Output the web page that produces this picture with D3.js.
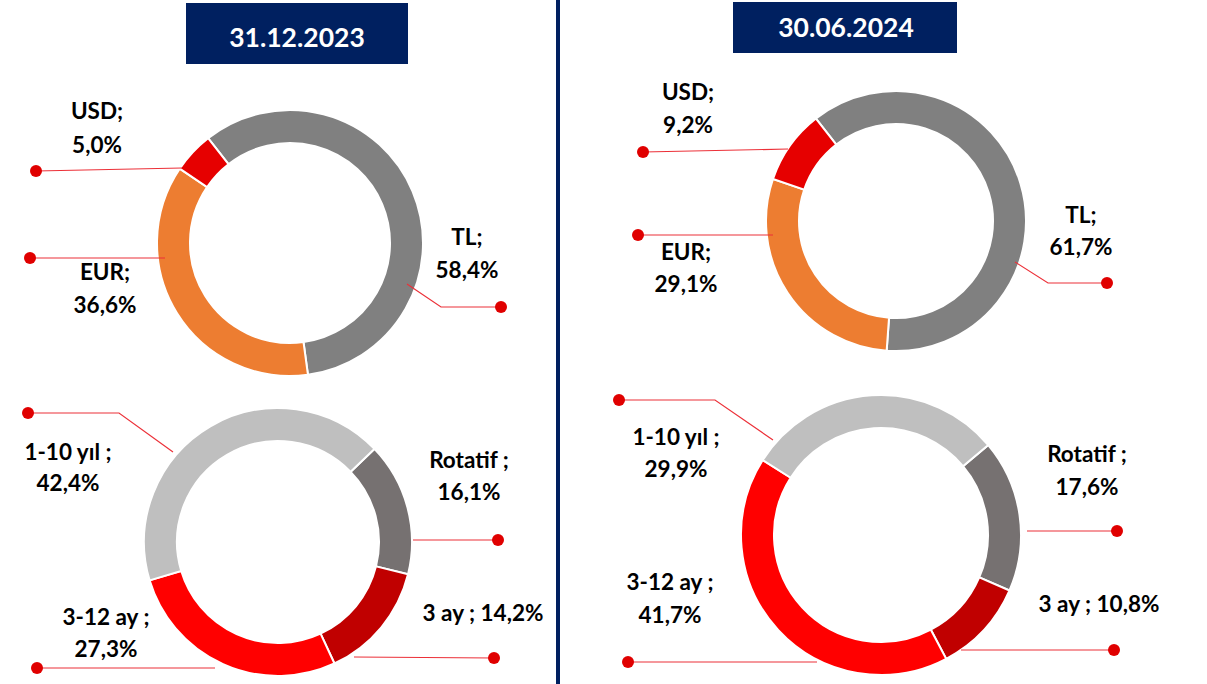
<!DOCTYPE html>
<html>
<head>
<meta charset="utf-8">
<script src="https://cdn.jsdelivr.net/npm/d3@7"></script>
<style>
  html, body { margin: 0; padding: 0; background: #fff; }
  svg { display: block; }
  text { font-family: Lato, "Open Sans", sans-serif; font-weight: bold; }
</style>
</head>
<body>
<div id="chart"></div>
<script>
// Data
const dateLabels = ["31.12.2023", "30.06.2024"];

const currencyCats = ["TL", "EUR", "USD"];
const currency2023 = [58.4, 36.6, 5.0];
const currency2024 = [61.7, 29.1, 9.2];

const maturityCats = ["Rotatif", "3 ay", "3-12 ay", "1-10 yıl"];
const maturity2023 = [16.1, 14.2, 27.3, 42.4];
const maturity2024 = [17.6, 10.8, 41.7, 29.9];

const currencyColors = ["#808080", "#ED7D31", "#E60000"];
const maturityColors = ["#767171", "#C00000", "#FF0000", "#BFBFBF"];

const width = 1207, height = 684;
const navy = "#002060";

// layout: one entry per donut (labels follow the category order)
const charts = [
  {
    cats: currencyCats, values: currency2023, colors: currencyColors, sep: ";",
    cx: 290, cy: 243, outer: 133, inner: 100, start: -38,
    labels: [
      { x: 467, y: [245, 278], leader: [[407, 284], [441, 307], [501, 307]] },
      { x: 105, y: [280, 313], leader: [[165, 258], [30, 258]] },
      { x: 97, y: [119, 153], leader: [[182, 168], [36, 171]] }
    ]
  },
  {
    cats: currencyCats, values: currency2024, colors: currencyColors, sep: ";",
    cx: 896, cy: 221, outer: 130, inner: 97, start: -38,
    labels: [
      { x: 1081, y: [223, 255], leader: [[1015, 262], [1048, 283], [1107, 283]] },
      { x: 686, y: [260, 292], leader: [[773, 235], [638, 235]] },
      { x: 688, y: [100, 133], leader: [[788, 149], [643, 152]] }
    ]
  },
  {
    cats: maturityCats, values: maturity2023, colors: maturityColors, sep: " ;",
    cx: 278, cy: 542, outer: 134, inner: 101, start: 46,
    labels: [
      { x: 469, y: [468, 500], leader: [[413, 540], [498, 540]] },
      { x: 483, y: [621], leader: [[354, 657], [494, 658]] },
      { x: 106, y: [625, 657], leader: [[215, 668], [37, 668]] },
      { x: 68, y: [460, 491], leader: [[173, 452], [119, 413], [28, 413]] }
    ]
  },
  {
    cats: maturityCats, values: maturity2024, colors: maturityColors, sep: " ;",
    cx: 881, cy: 535, outer: 140, inner: 107, start: 50,
    labels: [
      { x: 1087, y: [462, 495], leader: [[1027, 531], [1117, 531]] },
      { x: 1099, y: [612], leader: [[961, 650], [1114, 650]] },
      { x: 670, y: [590, 623], leader: [[817, 662], [628, 662]] },
      { x: 676, y: [445, 477], leader: [[773, 440], [715, 400], [619, 400]] }
    ]
  }
];

const headers = [
  { x: 186, y: 3, w: 222, h: 61, tx: 297, ty: 47 },
  { x: 733, y: 2, w: 224, h: 51, tx: 846, ty: 37 }
];

const svg = d3.select("#chart").append("svg")
  .attr("width", width)
  .attr("height", height);

svg.append("rect").attr("width", width).attr("height", height).attr("fill", "#fff");

// divider between the two dates
svg.append("rect")
  .attr("x", 556).attr("y", 0)
  .attr("width", 4).attr("height", height)
  .attr("fill", navy);

// date headers
headers.forEach((h, i) => {
  svg.append("rect")
    .attr("x", h.x).attr("y", h.y)
    .attr("width", h.w).attr("height", h.h)
    .attr("fill", navy);
  svg.append("text")
    .attr("x", h.tx).attr("y", h.ty)
    .attr("text-anchor", "middle")
    .attr("fill", "#fff")
    .attr("font-size", 26.5)
    .text(dateLabels[i]);
});

const fmt = v => d3.format(".1f")(v).replace(".", ",") + "%";
const rad = deg => deg * Math.PI / 180;

charts.forEach(c => {
  const pie = d3.pie().sort(null)
    .startAngle(rad(c.start))
    .endAngle(rad(c.start) + 2 * Math.PI);
  const arc = d3.arc().innerRadius(c.inner).outerRadius(c.outer);

  const g = svg.append("g").attr("transform", `translate(${c.cx},${c.cy})`);
  g.selectAll("path")
    .data(pie(c.values))
    .enter().append("path")
    .attr("d", arc)
    .attr("fill", (d, i) => c.colors[i])
    .attr("stroke", "#fff")
    .attr("stroke-width", 2);

  // leader lines with dots
  const line = d3.line();
  c.labels.forEach((l, i) => {
    svg.append("path")
      .attr("d", line(l.leader))
      .attr("fill", "none")
      .attr("stroke", "#EC3038")
      .attr("stroke-width", 1.2);
    const dot = l.leader[l.leader.length - 1];
    svg.append("circle")
      .attr("cx", dot[0]).attr("cy", dot[1])
      .attr("r", 6)
      .attr("fill", "#E00000");

    const name = c.cats[i] + c.sep;
    const t = svg.append("text")
      .attr("text-anchor", "middle")
      .attr("font-size", 22.5)
      .attr("fill", "#000");
    if (l.y.length === 1) {
      t.attr("x", l.x).attr("y", l.y[0]).text(name + " " + fmt(c.values[i]));
    } else {
      t.append("tspan").attr("x", l.x).attr("y", l.y[0]).text(name);
      t.append("tspan").attr("x", l.x).attr("y", l.y[1]).text(fmt(c.values[i]));
    }
  });
});
</script>
</body>
</html>
